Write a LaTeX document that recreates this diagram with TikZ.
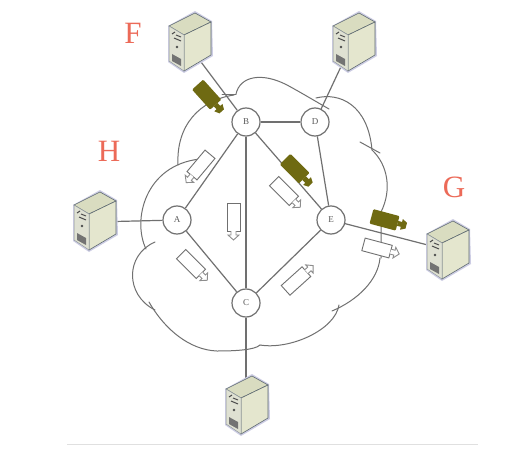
\documentclass[tikz,border=0pt]{standalone}
\usepackage{fontspec}
\setmainfont{Liberation Serif}
\definecolor{lnk}{HTML}{707070}
\definecolor{olv}{HTML}{6F6A12}
\definecolor{srvF}{HTML}{E4E6CE}
\definecolor{srvT}{HTML}{D9DCC0}
\definecolor{srvL}{HTML}{DFE1D2}
\definecolor{srvE}{HTML}{5F6B72}
\definecolor{lab}{HTML}{EC6A58}
\tikzset{
  router/.style={circle,draw=lnk,line width=1.2pt,fill=white,minimum size=28pt,inner sep=0pt,font=\fontsize{9}{9}\selectfont,text=black!65},
  link/.style={draw=lnk,line width=1.2pt},
  cloudline/.style={draw=lnk,line width=1pt,line cap=round},
  letter/.style={text=lab,font=\fontsize{31}{31}\selectfont,inner sep=0pt},
  anchorbox/.style={inner sep=0pt,minimum size=1pt,draw=none},
  pics/server/.style={code={
    \fill[blue!30!gray!30] (0,14) -- (27,-1) -- (44,9) -- (45,44) -- (16,61) -- (0,50) -- cycle;
    \fill[srvT,draw=srvE,line width=.6pt] (1,14) -- (27,1) -- (43,10) -- (16,23) -- cycle;
    \fill[srvF,draw=srvE,line width=.6pt] (16,23) -- (43,10) -- (43,43) -- (16,59) -- cycle;
    \fill[srvL,draw=srvE!70,line width=.5pt] (1,14) -- (16,23) -- (16,59) -- (1,49) -- cycle;
    \draw[black!70,line width=1pt] (4,22) -- (7,20) (8,23) -- (13,25) (6,26) -- (13,29);
    \fill[black!70] (9,35) circle (1.3pt);
    \fill[black!55] (4,42) -- (13,47) -- (13,54) -- (4,49) -- cycle;
  }},
  pics/olivecam/.style={code={
    \fill[olv,rounded corners=1pt] (-14,-7.5) -- (13,-7.5) -- (13,7.5) -- (-14,7.5) -- cycle;
    \fill[olv] (13,-2.5) -- (17,-2.5) -- (17,-5.5) -- (22,-3) -- (22,3) -- (17,5.5) -- (17,2.5) -- (13,2.5) -- cycle;
  }},
  pics/whitecam/.style={code={
    \draw[draw=lnk,fill=white,line width=.9pt] (-14,-6.5) rectangle (14,6.5);
    \draw[draw=lnk!80,fill=white,line width=.9pt] (14,-2.5) -- (18,-2.5) -- (18,-5.5) -- (23,0) -- (18,5.5) -- (18,2.5) -- (14,2.5);
  }},
}
\begin{document}
\begin{tikzpicture}[x=1pt,y=-1pt]
\useasboundingbox (0,0) rectangle (529,449);
\fill[white] (0,0) rectangle (529,449);
% cloud
\draw[cloudline] (236,94) .. controls (240,76) and (262,72) .. (287,85) .. controls (300,92) and (315,101) .. (329,109);
\draw[cloudline] (316,98) .. controls (340,92) and (368,105) .. (372,150);
\draw[cloudline] (360,142) -- (380,153);
\draw[cloudline] (372,150) .. controls (388,165) and (392,190) .. (381,212) -- (381,258);
\draw[cloudline] (380,258) .. controls (378,280) and (358,300) .. (332,311);
\draw[cloudline] (339,305) .. controls (335,330) and (290,350) .. (260,345);
\draw[cloudline] (260,345) .. controls (255,350) and (235,351) .. (217,351) .. controls (190,350) and (165,330) .. (149,302);
\draw[cloudline] (155,310) .. controls (125,295) and (125,255) .. (155,242);
\draw[cloudline] (146,249) .. controls (132,220) and (145,165) .. (200,159);
\draw[cloudline] (178,165) .. controls (176,125) and (200,100) .. (234,95);
\draw[cloudline] (222,95) -- (236,95);
% servers: named connection points
\node[anchorbox] (sF) at (186,42) {};
\node[anchorbox] (sD) at (353,41) {};
\node[anchorbox] (sA) at (94,222) {};
\node[anchorbox] (sC) at (246,404) {};
\node[anchorbox] (sG) at (447,250) {};
% routers
\node[router] (B) at (246,122) {B};
\node[router] (D) at (315,122) {D};
\node[router] (A) at (177,220) {A};
\node[router] (C) at (246,303) {C};
\node[router] (E) at (331,220) {E};
% links
\draw[link] (B) -- (D);
\draw[link] (B) -- (A);
\draw[link] (B) -- (C);
\draw[link] (B) -- (E);
\draw[link] (D) -- (E);
\draw[link] (A) -- (C);
\draw[link] (C) -- (E);
\draw[link] (sF) -- (B);
\draw[link] (sD) -- (D);
\draw[link] (sA) -- (A);
\draw[link] (sC) -- (C);
\draw[link] (sG) -- (E);
\pic at (168,12) {server};
\pic at (332,12) {server};
\pic at (73,191) {server};
\pic at (225,375) {server};
\pic at (426,220) {server};
% cameras
\pic[rotate=-48] at (207,95) {olivecam};
\pic[rotate=-45] at (295,169) {olivecam};
\pic[rotate=-15] at (385,220) {olivecam};
\pic[rotate=-130] at (201,165) {whitecam};
\pic[rotate=-45] at (284,191) {whitecam};
\pic[rotate=-90] at (233.5,217) {whitecam};
\pic[rotate=-45] at (191,264) {whitecam};
\pic[rotate=42] at (296,281) {whitecam};
\pic[rotate=-15] at (377,248) {whitecam};
% labels
\node[letter] (lF) at (133,33) {F};
\node[letter] (lH) at (109,151) {H};
\node[letter] (lG) at (454,187) {G};
\draw[black!12,line width=1pt] (67,444) -- (478,444);
\end{tikzpicture}
\end{document}
